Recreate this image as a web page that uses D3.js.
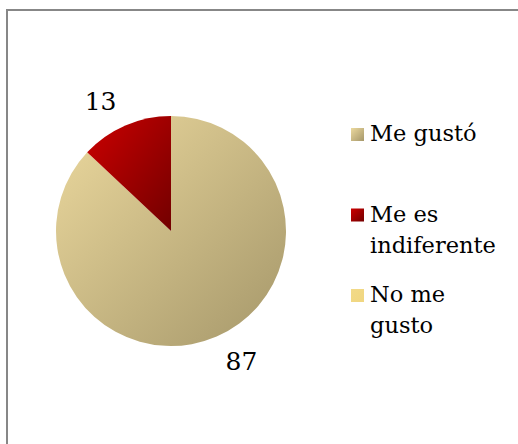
<!DOCTYPE html>
<html>
<head>
<meta charset="utf-8">
<script src="https://cdn.jsdelivr.net/npm/d3@7"></script>
<style>
  body { margin: 0; background: #fff; }
  svg { display: block; }
</style>
</head>
<body>
<div id="chart"></div>
<script>
// datos de la encuesta
var categorias = ["Me gustó", "Me es indiferente", "No me gusto"];
var valores = [87, 13, 0];
var etiquetasLeyenda = [["Me gustó"], ["Me es", "indiferente"], ["No me", "gusto"]];

var W = 518, H = 444;
var cx = 171, cy = 231, radio = 115, radioEtiq = 148;
var giroEtiq = -5 * Math.PI / 180; // las etiquetas de excel quedan algo giradas
var fuente = "DejaVu Serif, serif";

var svg = d3.select("#chart").append("svg")
  .attr("width", W)
  .attr("height", H);

// degradados tipo office
var defs = svg.append("defs");
var grads = [
  {id: "g0", c1: "#ecd99e", c2: "#a5976a"},
  {id: "g1", c1: "#cc0000", c2: "#720000"},
  {id: "g2", c1: "#f2da88", c2: "#f0d680"}
];
grads.forEach(function(g){
  var lg = defs.append("linearGradient")
    .attr("id", g.id)
    .attr("x1", "0").attr("y1", "0")
    .attr("x2", "1").attr("y2", "1");
  lg.append("stop").attr("offset", "0").attr("stop-color", g.c1);
  lg.append("stop").attr("offset", "1").attr("stop-color", g.c2);
});

// marco gris
svg.append("rect")
  .attr("x", 7).attr("y", 10)
  .attr("width", 600).attr("height", 600)
  .attr("fill", "none")
  .attr("stroke", "#878787")
  .attr("stroke-width", 2);

var pie = d3.pie().sort(null).value(function(d){ return d; });
var arcos = pie(valores);

var arc = d3.arc().innerRadius(0).outerRadius(radio);

var g = svg.append("g").attr("transform", "translate(" + cx + "," + cy + ")");

g.selectAll("path")
  .data(arcos.filter(function(d){ return d.value > 0; }))
  .enter()
  .append("path")
  .attr("d", arc)
  .attr("fill", function(d){ return "url(#g" + d.index + ")"; });

g.selectAll("text.valor")
  .data(arcos.filter(function(d){ return d.value > 0; }))
  .enter()
  .append("text")
  .attr("class", "valor")
  .attr("transform", function(d){
    var a = (d.startAngle + d.endAngle) / 2 + giroEtiq;
    return "translate(" + (Math.sin(a) * radioEtiq) + "," + (-Math.cos(a) * radioEtiq) + ")";
  })
  .attr("text-anchor", "middle")
  .attr("dy", "0.36em")
  .attr("font-family", fuente)
  .attr("font-size", 25)
  .text(function(d){ return d.value; });

// leyenda
var posLeyenda = d3.scalePoint()
  .domain(categorias)
  .range([141, 302]);

var ley = svg.selectAll("g.ley")
  .data(categorias)
  .enter()
  .append("g")
  .attr("class", "ley")
  .attr("transform", function(d){ return "translate(351," + posLeyenda(d) + ")"; });

ley.append("rect")
  .attr("x", 0).attr("y", -13)
  .attr("width", 13).attr("height", 13)
  .attr("fill", function(d, i){ return "url(#g" + i + ")"; });

ley.append("text")
  .attr("x", 19)
  .attr("y", 0)
  .attr("font-family", fuente)
  .attr("font-size", 22.5)
  .selectAll("tspan")
  .data(function(d, i){ return etiquetasLeyenda[i]; })
  .enter()
  .append("tspan")
  .attr("x", 19)
  .attr("dy", function(d, i){ return i === 0 ? 0 : 31; })
  .text(function(d){ return d; });
</script>
</body>
</html>
